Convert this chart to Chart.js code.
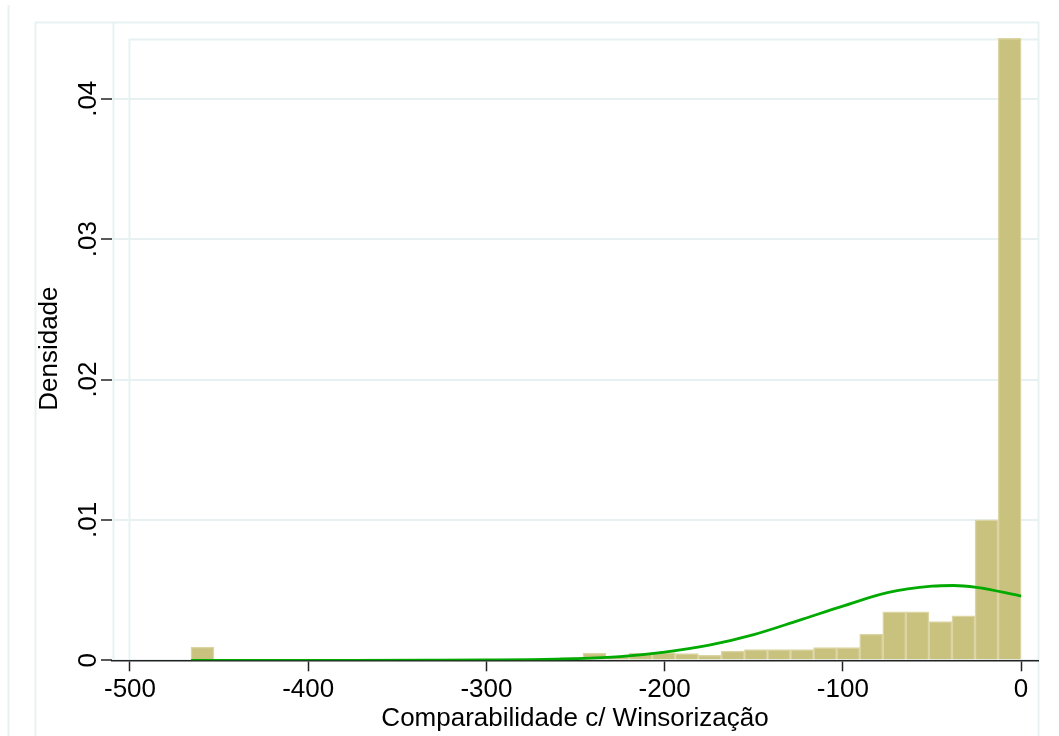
<!DOCTYPE html>
<html>
<head>
<meta charset="utf-8">
<title>Densidade - Comparabilidade c/ Winsorização</title>
<script src="https://cdn.jsdelivr.net/npm/chart.js@4.4.1/dist/chart.umd.min.js"></script>
<style>
    html, body { margin: 0; padding: 0; background: #ffffff; }
    #wrap { width: 1059px; height: 736px; }
</style>
</head>
<body>
<div id="wrap"><canvas id="hist" width="1059" height="736"></canvas></div>
<script>
// =============================================================================
// DATA
// =============================================================================

// histogram bins: first bin starts at binStart, all bins binWidth wide
const binStart = -465.8;
const binWidth = 12.94;

// density of each bin, left to right
const binDensity = [
    0.00095, 0.00008, 0.00008, 0.00008, 0.00008, 0.00008, 0.00008, 0.00008,
    0.00008, 0.00008, 0.00008, 0.00008, 0.00008, 0.00008, 0.00008, 0.00008,
    0.0002, 0.00052, 0.0003, 0.00052, 0.00055, 0.00048, 0.00036, 0.00065,
    0.00077, 0.00077, 0.00077, 0.0009, 0.0009, 0.00187, 0.00346, 0.00346,
    0.00275, 0.00317, 0.0100, 0.0443
];

// normal density overlay, read at these x positions
const curveX = [-465.8, -425, -375, -325, -300, -275, -250, -225, -200, -175, -150, -125, -100, -75, -50, -38, -25, 0];
const curveY = [0, 0, 0, 0.00001, 0.00002, 0.00004, 0.00011, 0.00026, 0.00058, 0.00108, 0.00183, 0.00283, 0.00386, 0.00482, 0.00528, 0.00533, 0.00519, 0.00458];

// axis ticks
const xTicks = [-500, -400, -300, -200, -100, 0];
const yTicks = [0, 0.01, 0.02, 0.03, 0.04];
const yTickLabels = ['0', '.01', '.02', '.03', '.04'];

// =============================================================================
// STYLE
// =============================================================================

const colors = {
    bar: 'rgb(201, 193, 126)',
    barEdge: 'rgb(219, 213, 164)',
    curve: '#00aa00',
    grid: '#e8f1f2',
    frame: '#e8f1f2',
    axis: '#222222',
    text: '#000000'
};

const fontFamily = '"Liberation Sans", Arial, sans-serif';
const fontSize = 26;

// =============================================================================
// BUILD CHART
// =============================================================================

const barPoints = binDensity.map((d, i) => ({ x: binStart + (i + 0.5) * binWidth, y: d }));
const curvePoints = curveX.map((x, i) => ({ x: x, y: curveY[i] }));

// light Stata style frames around graph and plot region
const frameBoxes = {
    id: 'frameBoxes',
    beforeDraw(chart) {
        const ctx = chart.ctx;
        ctx.save();
        ctx.strokeStyle = colors.frame;
        ctx.lineWidth = 2;
        ctx.beginPath();
        // outer left edge
        ctx.moveTo(8.5, 5); ctx.lineTo(8.5, 736);
        // graph region box
        ctx.moveTo(35.5, 736); ctx.lineTo(35.5, 22.5); ctx.lineTo(1038.5, 22.5); ctx.lineTo(1038.5, 736);
        // y axis line
        ctx.moveTo(113.5, 22.5); ctx.lineTo(113.5, 660);
        // plot region box
        ctx.moveTo(129.5, 660); ctx.lineTo(129.5, 39.5); ctx.lineTo(1038.5, 39.5);
        ctx.stroke();
        ctx.restore();
    }
};

new Chart(document.getElementById('hist'), {
    data: {
        datasets: [
            {
                type: 'line',
                data: curvePoints,
                borderColor: colors.curve,
                borderWidth: 2.8,
                pointRadius: 0,
                cubicInterpolationMode: 'monotone',
                order: 0
            },
            {
                type: 'bar',
                data: barPoints,
                backgroundColor: colors.bar,
                borderColor: colors.barEdge,
                borderWidth: 1.5,
                barPercentage: 1,
                categoryPercentage: 1,
                order: 1
            }
        ]
    },
    options: {
        responsive: false,
        animation: false,
        layout: { padding: { left: 0, right: 21, top: 37, bottom: 0 } },
        plugins: {
            legend: { display: false },
            tooltip: { enabled: false }
        },
        scales: {
            x: {
                type: 'linear',
                min: -510.1,
                max: 9.5,
                offset: false,
                afterBuildTicks: (scale) => { scale.ticks = xTicks.map(v => ({ value: v })); },
                afterFit: (scale) => { scale.height = 75.7; },
                border: { display: true, color: colors.axis, width: 1.5 },
                grid: {
                    offset: false,
                    drawOnChartArea: false,
                    drawTicks: true,
                    tickLength: 11,
                    tickColor: colors.axis,
                    tickWidth: 1.5
                },
                ticks: {
                    color: colors.text,
                    font: { family: fontFamily, size: fontSize },
                    padding: 3,
                    maxRotation: 0,
                    minRotation: 0,
                    autoSkip: false
                },
                title: {
                    display: true,
                    text: 'Comparabilidade c/ Winsorização',
                    color: colors.text,
                    font: { family: fontFamily, size: fontSize },
                    padding: { top: 0, bottom: 2 }
                }
            },
            y: {
                type: 'linear',
                min: 0,
                max: 0.0444,
                afterBuildTicks: (scale) => { scale.ticks = yTicks.map(v => ({ value: v })); },
                afterFit: (scale) => { scale.width = 112; },
                border: { display: false },
                grid: {
                    color: colors.grid,
                    lineWidth: 2,
                    drawTicks: true,
                    tickLength: 11,
                    tickColor: colors.axis,
                    tickWidth: 1.5
                },
                ticks: {
                    color: colors.text,
                    font: { family: fontFamily, size: fontSize },
                    padding: -6,
                    minRotation: 90,
                    maxRotation: 90,
                    crossAlign: 'center',
                    autoSkip: false,
                    callback: (value) => yTickLabels[yTicks.indexOf(value)]
                },
                title: {
                    display: true,
                    text: 'Densidade',
                    color: colors.text,
                    font: { family: fontFamily, size: fontSize },
                    padding: { top: 34, bottom: 0 }
                }
            }
        }
    },
    plugins: [frameBoxes]
});
</script>
</body>
</html>
